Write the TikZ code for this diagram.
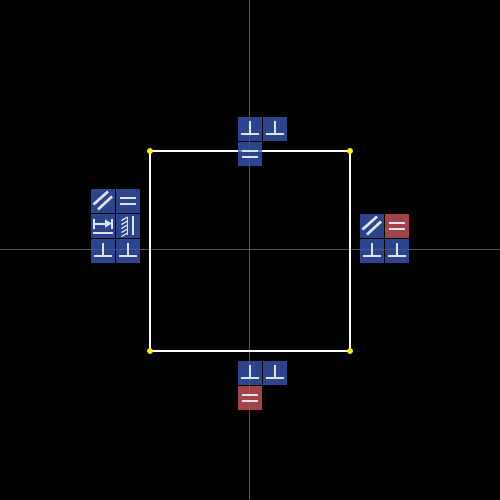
\documentclass[tikz,border=0pt]{standalone}
\definecolor{tileblue}{RGB}{56,85,176}
\definecolor{tilered}{RGB}{200,85,88}
\definecolor{glyph}{RGB}{222,226,240}
\definecolor{axisgray}{RGB}{85,85,85}
\tikzset{
  x=1pt,y=-1pt,
  axisline/.style={draw=axisgray,line width=1pt},
  frameline/.style={draw=white,line width=2pt},
  corner/.style={fill=yellow,draw=none},
  tileb/.style={fill=tileblue,fill opacity=.8,draw=none},
  tiler/.style={fill=tilered,fill opacity=.8,draw=none},
  gl/.style={draw=glyph,line width=2pt},
  glwide/.style={draw=glyph,line width=2.6pt},
  glthin/.style={draw=glyph,line width=1.2pt},
  pics/perp/.style={code={
    \fill[tile#1] (0,0) rectangle (24,24);
    \draw[gl] (3,17) -- (21,17) (12,4) -- (12,17);}},
  pics/par/.style={code={
    \fill[tile#1] (0,0) rectangle (24,24);
    \draw[gl] (4,9) -- (20,9) (4,15) -- (20,15);}},
  pics/slant/.style={code={
    \fill[tile#1] (0,0) rectangle (24,24);
    \draw[glwide] (2.5,15.5) -- (17,2.5) (7,20.5) -- (21,7.5);}},
  pics/dist/.style={code={
    \fill[tile#1] (0,0) rectangle (24,24);
    \draw[gl] (2,19) -- (22,19) (3,4.5) -- (3,14.5) (3,9.5) -- (16,9.5) (21,4.5) -- (21,14.5);
    \fill[glyph] (21,9.5) -- (14,5.5) -- (14,13.5) -- cycle;}},
  pics/hatch/.style={code={
    \fill[tile#1] (0,0) rectangle (24,24);
    \draw[gl] (16.5,2) -- (16.5,21);
    \draw[glthin] (11.5,3) -- (11.5,21);
    \foreach \k in {3,7,11,15,19} \draw[glthin] (11.5,\k) -- (5.5,\k+3.5);}},
}
\begin{document}
\begin{tikzpicture}
\useasboundingbox (0,0) rectangle (500,500);
\fill[black] (0,0) rectangle (500,500);
\draw[axisline] (0,249.5) -- (500,249.5);
\draw[axisline] (249.5,0) -- (249.5,500);
\draw[frameline] (150,151) rectangle (350,351);
\foreach \cx/\cy in {150/151,350/151,150/351,350/351} \fill[corner] (\cx,\cy) circle (3);
% top
\pic at (238,117) {perp=b};
\pic at (263,117) {perp=b};
\pic at (238,142) {par=b};
% left
\pic at (91,189) {slant=b};
\pic at (116,189) {par=b};
\pic at (91,214) {dist=b};
\pic at (116,214) {hatch=b};
\pic at (91,239) {perp=b};
\pic at (116,239) {perp=b};
% right
\pic at (360,214) {slant=b};
\pic at (385,214) {par=r};
\pic at (360,239) {perp=b};
\pic at (385,239) {perp=b};
% bottom
\pic at (238,361) {perp=b};
\pic at (263,361) {perp=b};
\pic at (238,386) {par=r};
\end{tikzpicture}
\end{document}
